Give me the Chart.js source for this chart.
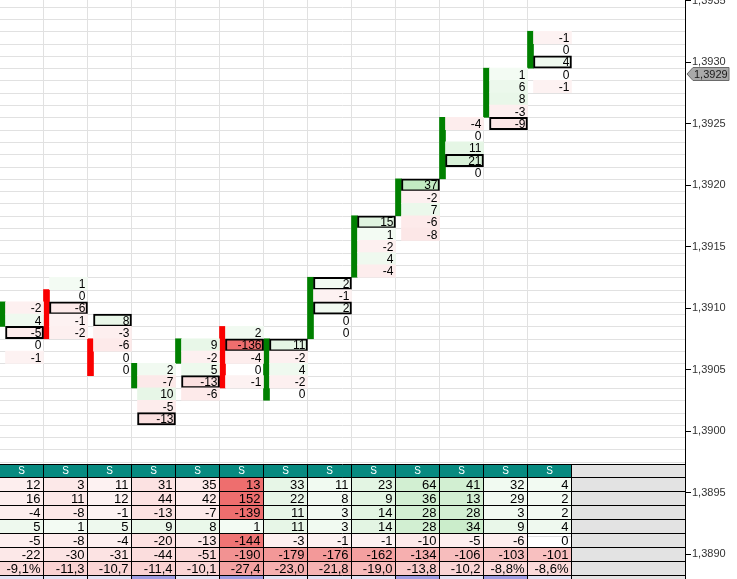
<!DOCTYPE html>
<html>
<head>
<meta charset="utf-8">
<script src="https://cdn.jsdelivr.net/npm/chart.js@4.4.0/dist/chart.umd.min.js"></script>
<style>
html, body { margin: 0; padding: 0; background: #fff; }
canvas { display: block; }
</style>
</head>
<body>
<canvas id="chart" width="737" height="579"></canvas>
<script>
// --- dane: footprint ---
// korpus świecy (open / close) dla każdej kolumny
const bodyOpen  = [1.3909, 1.3911, 1.3907, 1.3904, 1.3906, 1.3908, 1.3903, 1.3908, 1.3913, 1.3918, 1.3921, 1.3926, 1.3930];
const bodyClose = [1.3910, 1.3908, 1.3905, 1.3905, 1.3907, 1.3904, 1.3907, 1.3912, 1.3917, 1.3920, 1.3925, 1.3929, 1.3932];
// najwyższa cena pierwszej komórki + delty na poziomach (od góry)
const cellTop = [1.3910, 1.3912, 1.3909, 1.3905, 1.3907, 1.3908, 1.3907, 1.3912, 1.3917, 1.3920, 1.3925, 1.3929, 1.3932];
const cellDelta = [
    [-2, 4, -5, 0, -1],
    [1, 0, -6, -1, -2],
    [8, -3, -6, 0, 0],
    [2, -7, 10, -5, -13],
    [9, -2, 5, -13, -6],
    [2, -136, -4, 0, -1],
    [11, -2, 4, -2, 0],
    [2, -1, 2, 0, 0],
    [15, 1, -2, 4, -4],
    [37, -2, 7, -6, -8],
    [-4, 0, 11, 21, 0],
    [1, 6, 8, -3, -9],
    [-1, 0, 4, 0, -1]
];
// komórki w ramce (indeks poziomu w kolumnie)
const boxedCells = [[2], [2], [0], [4], [3], [1], [0], [0, 2], [0], [0], [3], [4], [2]];

// --- dane: tabela pod wykresem ---
const headers  = ['S', 'S', 'S', 'S', 'S', 'S', 'S', 'S', 'S', 'S', 'S', 'S', 'S'];
const buyVol   = [12, 3, 11, 31, 35, 13, 33, 11, 23, 64, 41, 32, 4];
const sellVol  = [16, 11, 12, 44, 42, 152, 22, 8, 9, 36, 13, 29, 2];
const deltaRow = [-4, -8, -1, -13, -7, -139, 11, 3, 14, 28, 28, 3, 2];
const maxDelta = [5, 1, 5, 9, 8, 1, 11, 3, 14, 28, 34, 9, 4];
const minDelta = [-5, -8, -4, -20, -13, -144, -3, -1, -1, -10, -5, -6, 0];
const cumDelta = [-22, -30, -31, -44, -51, -190, -179, -176, -162, -134, -106, -103, -101];
const deltaPct = [-9.1, -11.3, -10.7, -11.4, -10.1, -27.4, -23.0, -21.8, -19.0, -13.8, -10.2, -8.8, -8.6];
const volMark  = [0, 0, 0, 1, 0, 1, 0, 0, 0, 1, 0, 1, 0];

const lastPrice = 1.3929;

// --- zakresy osi ---
const PIP = 0.0001;
const HALF = PIP / 2;
const X_MIN = 0.5 / 44;
const X_MAX = X_MIN + 685 / 44;
const Y_MAX = 1.389 + 554 / 123000;
const Y_MIN = Y_MAX - 579 / 123000;

const FONT = "'Liberation Sans', Arial, sans-serif";
const GREEN = 'rgb(0, 128, 0)';
const RED = 'rgb(250, 0, 0)';

function tint(v, scale) {
    if (!v) return 'rgba(255,255,255,0)';
    const t = 0.07 + 0.78 * Math.min(1, Math.abs(v) / scale);
    const base = v > 0 ? [100, 200, 100] : [235, 85, 85];
    const c = base.map(b => Math.round(255 - (255 - b) * t));
    return `rgb(${c.join(',')})`;
}

function fmtPrice(v) {
    return v.toFixed(4).replace('.', ',');
}

// --- punkty dla słupków ---
const cellPoints = [], cellBg = [], cellBorder = [], cellBorderW = [], cellLabels = [];
cellDelta.forEach((list, i) => {
    list.forEach((v, k) => {
        const p = +(cellTop[i] - k * PIP).toFixed(4);
        const boxed = boxedCells[i].includes(k);
        cellPoints.push({ x: i + 25 / 44, y: [p - HALF, p + HALF] });
        cellBg.push(tint(v, 90));
        cellBorder.push(boxed ? '#000' : 'rgba(0,0,0,0)');
        cellBorderW.push(boxed ? 2 : 0);
        cellLabels.push(String(v));
    });
});

const bodyPoints = bodyOpen.map((o, i) => {
    const c = bodyClose[i];
    return { x: i + 3 / 44, y: [Math.min(o, c) - HALF, Math.max(o, c) + HALF] };
});
const bodyColors = bodyOpen.map((o, i) => bodyClose[i] >= o ? GREEN : RED);

// --- pluginy ---
const gridPlugin = {
    id: 'grid',
    beforeDatasetsDraw(chart) {
        const { ctx, chartArea: a, scales: { x, y } } = chart;
        ctx.save();
        ctx.strokeStyle = '#e1e1e1';
        ctx.lineWidth = 1;
        ctx.beginPath();
        const n0 = Math.floor(Y_MIN / PIP) - 1, n1 = Math.ceil(Y_MAX / PIP) + 1;
        for (let n = n0; n <= n1; n++) {
            const py = Math.round(y.getPixelForValue((n + 0.5) * PIP)) + 0.5;
            if (py < a.top || py > a.bottom) continue;
            ctx.moveTo(a.left, py);
            ctx.lineTo(a.right, py);
        }
        for (let k = 1; k < headers.length; k++) {
            const px = Math.floor(x.getPixelForValue(k)) + 0.5;
            ctx.moveTo(px, a.top);
            ctx.lineTo(px, a.bottom);
        }
        ctx.stroke();
        ctx.restore();
    }
};

const labelPlugin = {
    id: 'cellLabels',
    afterDatasetsDraw(chart) {
        const { ctx } = chart;
        const meta = chart.getDatasetMeta(0);
        ctx.save();
        ctx.font = '12px ' + FONT;
        ctx.fillStyle = '#000';
        ctx.textAlign = 'right';
        ctx.textBaseline = 'middle';
        meta.data.forEach((el, j) => {
            const cy = (el.y + el.base) / 2;
            ctx.fillText(cellLabels[j], el.x + el.width / 2 - 2, cy + 1);
        });
        ctx.restore();
    }
};

const tablePlugin = {
    id: 'table',
    afterDatasetsDraw(chart) {
        const { ctx, chartArea: a, scales: { x } } = chart;
        const top = a.bottom - 114;
        const hdrH = 13, rowH = 14;
        const cols = headers.length;
        const rows = [
            { vals: buyVol, fill: i => tint(deltaRow[i], 100) },
            { vals: sellVol, fill: i => tint(deltaRow[i], 100) },
            { vals: deltaRow, fill: i => tint(deltaRow[i], 100) },
            { vals: maxDelta, fill: i => tint(maxDelta[i], 100) },
            { vals: minDelta, fill: i => tint(minDelta[i], 150) },
            { vals: cumDelta, fill: i => tint(cumDelta[i], 260) },
            { vals: deltaPct, fill: i => tint(deltaPct[i], 45), fmt: v => v.toFixed(1).replace('.', ',') + (Math.abs(v) < 10 ? '%' : '') },
            { vals: volMark, fill: i => volMark[i] ? '#9d9de3' : '#e2e2f4', fmt: () => '' }
        ];
        const colL = i => x.getPixelForValue(i);
        const grayL = colL(cols);

        ctx.save();
        // nagłówek
        for (let i = 0; i < cols; i++) {
            ctx.fillStyle = '#078a80';
            ctx.fillRect(colL(i), top, colL(i + 1) - colL(i), hdrH);
        }
        ctx.fillStyle = '#e3e3e3';
        ctx.fillRect(grayL, top, a.right - grayL, a.bottom - top);
        // wiersze
        rows.forEach((r, ri) => {
            const ry = top + hdrH + ri * rowH;
            for (let i = 0; i < cols; i++) {
                ctx.fillStyle = r.fill(i);
                ctx.fillRect(colL(i), ry, colL(i + 1) - colL(i), rowH);
                if (ctx.fillStyle === 'rgba(0, 0, 0, 0)') {
                    ctx.fillStyle = '#fff';
                    ctx.fillRect(colL(i), ry, colL(i + 1) - colL(i), rowH);
                }
            }
        });
        // linie
        ctx.strokeStyle = '#000';
        ctx.lineWidth = 1;
        ctx.beginPath();
        const hLines = [top, top + hdrH];
        for (let ri = 1; ri <= rows.length; ri++) hLines.push(top + hdrH + ri * rowH);
        hLines.forEach(hy => {
            const py = Math.round(hy) - 0.5;
            ctx.moveTo(a.left, py);
            ctx.lineTo(a.right, py);
        });
        for (let i = 1; i <= cols; i++) {
            const px = Math.floor(colL(i)) + 0.5;
            ctx.moveTo(px, top);
            ctx.lineTo(px, a.bottom);
        }
        ctx.stroke();
        // teksty
        ctx.textBaseline = 'middle';
        ctx.font = '10px ' + FONT;
        ctx.textAlign = 'center';
        ctx.fillStyle = '#fff';
        for (let i = 0; i < cols; i++) {
            ctx.fillText(headers[i], (colL(i) + colL(i + 1)) / 2, top + hdrH / 2);
        }
        ctx.font = '13px ' + FONT;
        ctx.textAlign = 'right';
        ctx.fillStyle = '#000';
        rows.forEach((r, ri) => {
            const cy = top + hdrH + ri * rowH + rowH / 2;
            for (let i = 0; i < cols; i++) {
                const txt = r.fmt ? r.fmt(r.vals[i]) : String(r.vals[i]);
                ctx.fillText(txt, colL(i + 1) - 3, cy);
            }
        });
        ctx.restore();
    }
};

const pricePlugin = {
    id: 'priceTag',
    afterDraw(chart) {
        const { ctx, chartArea: a, scales: { y } } = chart;
        const py = Math.round(y.getPixelForValue(lastPrice));
        const x0 = a.right + 2, x1 = a.right + 8, x2 = a.right + 44, h = 6.5;
        ctx.save();
        ctx.beginPath();
        ctx.moveTo(x0, py);
        ctx.lineTo(x1, py - h);
        ctx.lineTo(x2, py - h);
        ctx.lineTo(x2, py + h);
        ctx.lineTo(x1, py + h);
        ctx.closePath();
        ctx.fillStyle = '#a9a9a9';
        ctx.fill();
        ctx.strokeStyle = '#6a6a6a';
        ctx.lineWidth = 1;
        ctx.stroke();
        ctx.fillStyle = '#1a1a1a';
        ctx.font = '11px ' + FONT;
        ctx.textAlign = 'left';
        ctx.textBaseline = 'middle';
        ctx.fillText(fmtPrice(lastPrice), x1 + 1, py + 0.5);
        ctx.restore();
    }
};

new Chart(document.getElementById('chart'), {
    type: 'bar',
    data: {
        datasets: [
            {
                label: 'cells',
                data: cellPoints,
                backgroundColor: cellBg,
                borderColor: cellBorder,
                borderWidth: cellBorderW,
                borderSkipped: false,
                barThickness: 38,
                grouped: false
            },
            {
                label: 'bodies',
                data: bodyPoints,
                backgroundColor: bodyColors,
                borderWidth: 0,
                barThickness: 6,
                grouped: false
            }
        ]
    },
    options: {
        responsive: false,
        animation: false,
        events: [],
        layout: { padding: 0 },
        plugins: { legend: { display: false }, tooltip: { enabled: false } },
        scales: {
            x: {
                type: 'linear',
                display: false,
                min: X_MIN,
                max: X_MAX,
                offset: false,
                grid: { offset: false }
            },
            y: {
                type: 'linear',
                position: 'right',
                min: Y_MIN,
                max: Y_MAX,
                beginAtZero: false,
                grid: { drawOnChartArea: false, tickLength: 6, tickColor: '#000' },
                border: { color: '#000', width: 1 },
                ticks: {
                    stepSize: 0.0005,
                    includeBounds: false,
                    padding: 1,
                    color: '#333',
                    font: { family: FONT, size: 11 },
                    callback: v => fmtPrice(v)
                },
                afterFit(s) {
                    s.width = 52;
                    s.paddingTop = 0;
                    s.paddingBottom = 0;
                }
            }
        }
    },
    plugins: [gridPlugin, labelPlugin, tablePlugin, pricePlugin]
});
</script>
</body>
</html>
